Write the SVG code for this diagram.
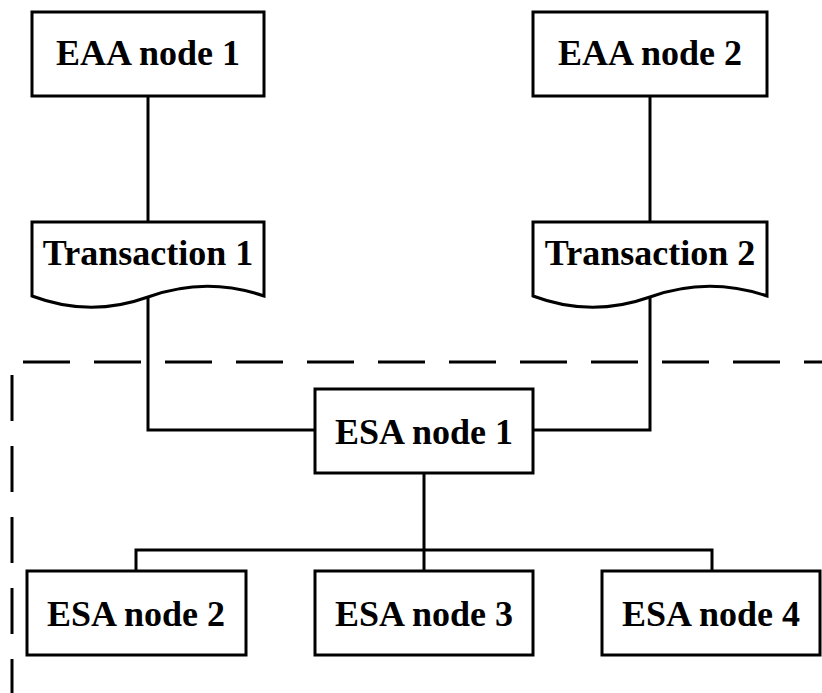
<svg xmlns="http://www.w3.org/2000/svg" width="822" height="693" viewBox="0 0 822 693">
<style>
.box{fill:#fff;stroke:#000;stroke-width:3}
.lbl{font-family:"Liberation Serif","Times New Roman",serif;font-weight:bold;font-size:36px;fill:#000;text-anchor:middle}
.conn{fill:none;stroke:#000;stroke-width:3}
.dash{fill:none;stroke:#000;stroke-width:3}
</style>
<rect width="822" height="693" fill="#fff"/>
<g id="boundary">
<line class="dash" x1="23" y1="362" x2="822" y2="362" stroke-dasharray="47 24"/>
<line class="dash" x1="12" y1="375" x2="12" y2="693" stroke-dasharray="46 25"/>
</g>
<g id="connectors">
<line class="conn" x1="148" y1="96" x2="148" y2="222"/>
<line class="conn" x1="650" y1="96" x2="650" y2="222"/>
<polyline class="conn" points="148,297 148,430 315,430"/>
<polyline class="conn" points="650,297 650,430 533,430"/>
<line class="conn" x1="424" y1="473" x2="424" y2="571"/>
<polyline class="conn" points="136,571 136,550 712,550 712,571"/>
</g>
<g id="eaa1">
<rect class="box" x="32" y="12" width="232" height="84"/>
<text class="lbl" x="148" y="65">EAA node 1</text>
</g>
<g id="eaa2">
<rect class="box" x="533" y="12" width="234" height="84"/>
<text class="lbl" x="650" y="65">EAA node 2</text>
</g>
<g id="tx1">
<path class="box" d="M32,222 H264 V296 Q206,276 148,297 Q90,318 32,296 Z"/>
<text class="lbl" x="148" y="265">Transaction 1</text>
</g>
<g id="tx2">
<path class="box" d="M533,222 H767 V296 Q708,276 650,297 Q591,318 533,296 Z"/>
<text class="lbl" x="650" y="265">Transaction 2</text>
</g>
<g id="esa1">
<rect class="box" x="315" y="389" width="218" height="84"/>
<text class="lbl" x="424" y="444">ESA node 1</text>
</g>
<g id="esa2">
<rect class="box" x="27" y="571" width="219" height="84"/>
<text class="lbl" x="136" y="626">ESA node 2</text>
</g>
<g id="esa3">
<rect class="box" x="315" y="571" width="218" height="84"/>
<text class="lbl" x="424" y="626">ESA node 3</text>
</g>
<g id="esa4">
<rect class="box" x="602" y="571" width="218" height="84"/>
<text class="lbl" x="711" y="626">ESA node 4</text>
</g>
</svg>
